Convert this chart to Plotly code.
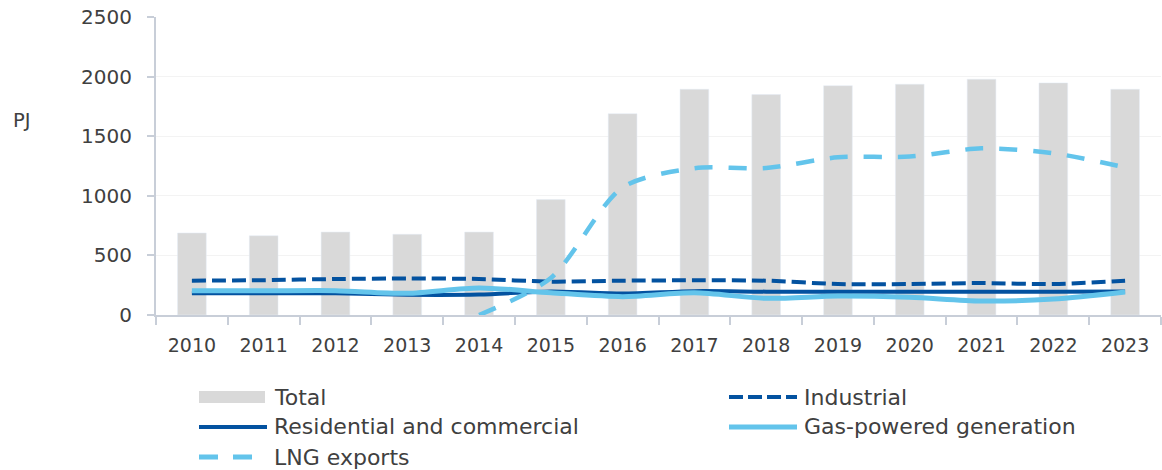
import plotly.graph_objects as go

# Natural gas use by sector, PJ
years = [str(y) for y in range(2010, 2024)]
total = [688, 665, 696, 677, 696, 968, 1689, 1894, 1849, 1924, 1936, 1978, 1947, 1894]
industrial = [288, 292, 302, 306, 302, 280, 288, 291, 288, 260, 260, 268, 260, 288]
residential = [183, 183, 182, 170, 172, 197, 180, 200, 196, 196, 196, 196, 196, 197]
gas_powered = [204, 203, 204, 182, 227, 187, 154, 186, 140, 159, 148, 117, 134, 193]
lng_exports = [None, None, None, None, 0, 310, 1070, 1231, 1233, 1323, 1329, 1398, 1357, 1239]
y_ticks = [0, 500, 1000, 1500, 2000, 2500]

GREY_BAR = "#D9D9D9"
DARK_BLUE = "#0352A0"
LIGHT_BLUE = "#63C4EB"
AXIS = "#C8CED8"
TEXT = "#404040"
FONT = "DejaVu Sans, sans-serif"

W, H = 1162, 470
L, R, T, B = 156, 1, 17, 155
PW, PH = W - L - R, H - T - B


def px(x):
    return (x - L) / PW


def py(y):
    return (H - B - y) / PH


fig = go.Figure()
fig.add_trace(go.Bar(x=years, y=total, name="Total", marker_color=GREY_BAR,
                     showlegend=False))

line_specs = [
    ("Industrial", industrial, DARK_BLUE, 4, "14px,6px"),
    ("Residential and commercial", residential, DARK_BLUE, 4, "solid"),
    ("Gas-powered generation", gas_powered, LIGHT_BLUE, 5, "solid"),
    ("LNG exports", lng_exports, LIGHT_BLUE, 4.5, "18px,16px"),
]
for name, vals, color, width, dash in line_specs:
    fig.add_trace(go.Scatter(
        x=years, y=vals, name=name, mode="lines", showlegend=False,
        line=dict(color=color, width=width, dash=dash, shape="spline", smoothing=0.8),
        connectgaps=False,
    ))

# Two-column legend below the chart
shapes = []
annotations = []
legend_rows = [
    ("Total", 199, 397, dict(kind="rect")),
    ("Industrial", 729, 397, dict(kind="line", color=DARK_BLUE, width=4, dash="14px,5px")),
    ("Residential and commercial", 199, 427, dict(kind="line", color=DARK_BLUE, width=4, dash="solid")),
    ("Gas-powered generation", 729, 427, dict(kind="line", color=LIGHT_BLUE, width=5, dash="solid")),
    ("LNG exports", 199, 457, dict(kind="line", color=LIGHT_BLUE, width=5, dash="19px,15px")),
]
for label, x0, yc, sym in legend_rows:
    if sym["kind"] == "rect":
        shapes.append(dict(type="rect", xref="paper", yref="paper",
                           x0=px(x0), x1=px(x0 + 66), y0=py(yc - 6), y1=py(yc + 6),
                           fillcolor=GREY_BAR, line_width=0))
    else:
        shapes.append(dict(type="line", xref="paper", yref="paper",
                           x0=px(x0), x1=px(x0 + 68), y0=py(yc), y1=py(yc),
                           line=dict(color=sym["color"], width=sym["width"], dash=sym["dash"])))
    annotations.append(dict(text=label, xref="paper", yref="paper",
                            x=px(x0 + 73), y=py(yc), xanchor="left", yanchor="middle",
                            showarrow=False, font=dict(size=22, color=TEXT, family=FONT)))

annotations.append(dict(text="PJ", xref="paper", yref="paper", x=px(11), y=py(120),
                        xanchor="left", yanchor="middle", showarrow=False,
                        font=dict(size=19.5, color=TEXT, family=FONT)))

fig.update_layout(
    width=W, height=H,
    margin=dict(l=L, r=R, t=T, b=B, pad=0),
    plot_bgcolor="white", paper_bgcolor="white",
    bargap=0.6,
    showlegend=False,
    font=dict(family=FONT, size=19, color=TEXT),
    shapes=shapes,
    annotations=annotations,
    xaxis=dict(
        type="category", range=[-0.5, 13.5],
        showline=True, linecolor=AXIS, linewidth=2,
        ticks="outside", tickson="boundaries", ticklen=8, tickwidth=2, tickcolor=AXIS,
        showgrid=False, tickfont=dict(size=19, color=TEXT), ticklabelstandoff=12,
    ),
    yaxis=dict(
        range=[0, 2500], tickvals=y_ticks,
        showline=True, linecolor=AXIS, linewidth=2,
        ticks="outside", ticklen=7, tickwidth=2, tickcolor=AXIS,
        showgrid=True, gridcolor="#F3F3F3", gridwidth=1, zeroline=False,
        tickfont=dict(size=20, color=TEXT), ticklabelstandoff=11,
    ),
)

fig.write_html("out.html")
